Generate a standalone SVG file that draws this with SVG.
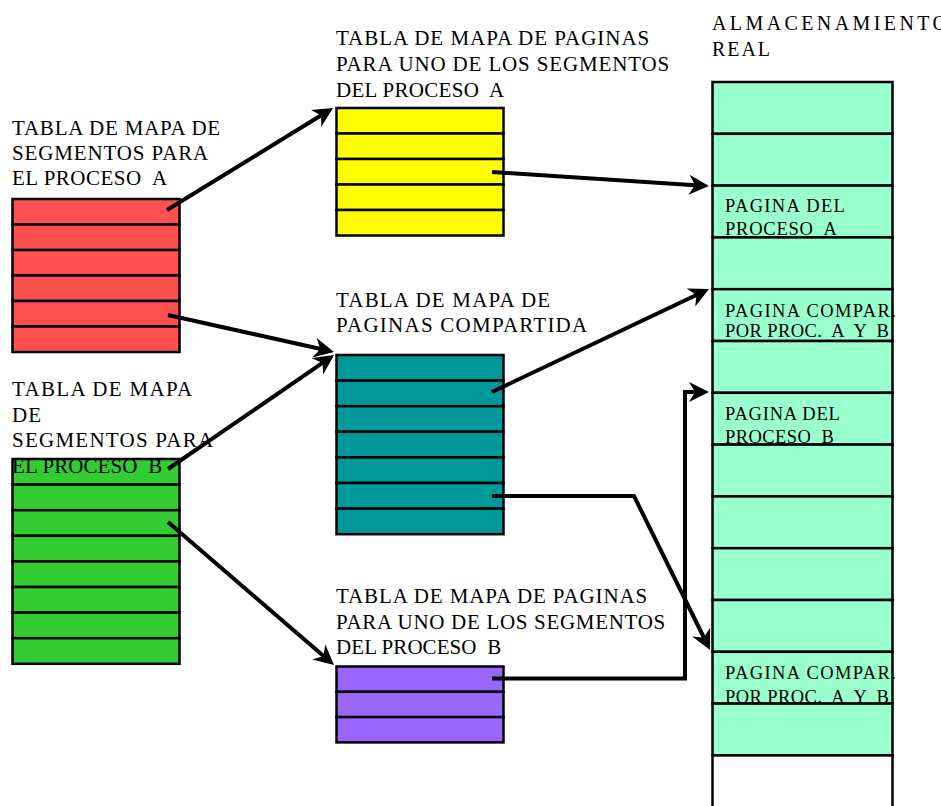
<svg xmlns="http://www.w3.org/2000/svg" width="941" height="806" viewBox="0 0 941 806" font-family="'Liberation Serif', serif">
<style>
text{font-family:'Liberation Serif',serif;fill:#000;white-space:pre}
.lbl{font-size:21px;letter-spacing:0.8px}
.ttl{font-size:20px;letter-spacing:3px}
.mem{font-size:18.5px;letter-spacing:1.1px}
.row{stroke:#000;stroke-width:2.5}
.red{fill:#FF5050}.yel{fill:#FFFF00}.tea{fill:#009999}.grn{fill:#33CC33}.pur{fill:#9966FF}.mm{fill:#99FFCC}
.con{fill:none;stroke:#000;stroke-width:4;stroke-linejoin:miter}
</style>
<defs>
<marker id="ah" markerUnits="userSpaceOnUse" markerWidth="22" markerHeight="22" refX="10" refY="10" orient="auto" viewBox="0 0 22 22">
<path d="M0,0 L20,10 L0,20 L6,10 z" fill="#000"/>
</marker>
</defs>

<g id="seg-a">
<rect class="row red" x="12.5" y="199" width="167" height="25.5"/>
<rect class="row red" x="12.5" y="224.5" width="167" height="25.5"/>
<rect class="row red" x="12.5" y="250" width="167" height="25.5"/>
<rect class="row red" x="12.5" y="275.5" width="167" height="25.5"/>
<rect class="row red" x="12.5" y="301" width="167" height="25.5"/>
<rect class="row red" x="12.5" y="326.5" width="167" height="25.5"/>
<text class="lbl" x="12" y="135" textLength="209" lengthAdjust="spacing">TABLA DE MAPA DE</text>
<text class="lbl" x="12" y="160" textLength="197" lengthAdjust="spacing">SEGMENTOS PARA</text>
<text class="lbl" x="12" y="185" textLength="156" lengthAdjust="spacing" xml:space="preserve">EL PROCESO  A</text>
</g>

<g id="seg-b">
<rect class="row grn" x="12.5" y="459" width="167" height="25.6"/>
<rect class="row grn" x="12.5" y="484.6" width="167" height="25.6"/>
<rect class="row grn" x="12.5" y="510.2" width="167" height="25.6"/>
<rect class="row grn" x="12.5" y="535.8" width="167" height="25.6"/>
<rect class="row grn" x="12.5" y="561.4" width="167" height="25.6"/>
<rect class="row grn" x="12.5" y="587" width="167" height="25.6"/>
<rect class="row grn" x="12.5" y="612.6" width="167" height="25.6"/>
<rect class="row grn" x="12.5" y="638.2" width="167" height="25.6"/>
<text class="lbl" x="12" y="396" textLength="181" lengthAdjust="spacing">TABLA DE MAPA</text>
<text class="lbl" x="12" y="421.5" textLength="30" lengthAdjust="spacing">DE</text>
<text class="lbl" x="12" y="447" textLength="202" lengthAdjust="spacing">SEGMENTOS PARA</text>
<text class="lbl" x="12" y="472.5" textLength="151" lengthAdjust="spacing" xml:space="preserve">EL PROCESO  B</text>
</g>

<g id="pag-a">
<rect class="row yel" x="336.5" y="108" width="167" height="25.5"/>
<rect class="row yel" x="336.5" y="133.5" width="167" height="25.5"/>
<rect class="row yel" x="336.5" y="159" width="167" height="25.5"/>
<rect class="row yel" x="336.5" y="184.5" width="167" height="25.5"/>
<rect class="row yel" x="336.5" y="210" width="167" height="25.5"/>
<text class="lbl" x="336" y="45" textLength="314" lengthAdjust="spacing">TABLA DE MAPA DE PAGINAS</text>
<text class="lbl" x="336" y="71" textLength="334" lengthAdjust="spacing">PARA UNO DE LOS SEGMENTOS</text>
<text class="lbl" x="336" y="96.5" textLength="169" lengthAdjust="spacing" xml:space="preserve">DEL PROCESO  A</text>
</g>

<g id="pag-shared">
<rect class="row tea" x="336.5" y="355" width="167" height="25.6"/>
<rect class="row tea" x="336.5" y="380.6" width="167" height="25.6"/>
<rect class="row tea" x="336.5" y="406.2" width="167" height="25.6"/>
<rect class="row tea" x="336.5" y="431.8" width="167" height="25.6"/>
<rect class="row tea" x="336.5" y="457.4" width="167" height="25.6"/>
<rect class="row tea" x="336.5" y="483" width="167" height="25.6"/>
<rect class="row tea" x="336.5" y="508.6" width="167" height="25.6"/>
<text class="lbl" x="336" y="307" textLength="215" lengthAdjust="spacing">TABLA DE MAPA DE</text>
<text class="lbl" x="336" y="332" textLength="252" lengthAdjust="spacing">PAGINAS COMPARTIDA</text>
</g>

<g id="pag-b">
<rect class="row pur" x="336.5" y="666.5" width="167" height="25.3"/>
<rect class="row pur" x="336.5" y="691.8" width="167" height="25.3"/>
<rect class="row pur" x="336.5" y="717.1" width="167" height="25.3"/>
<text class="lbl" x="336" y="603" textLength="312" lengthAdjust="spacing">TABLA DE MAPA DE PAGINAS</text>
<text class="lbl" x="336" y="629" textLength="330" lengthAdjust="spacing">PARA UNO DE LOS SEGMENTOS</text>
<text class="lbl" x="336" y="654" textLength="166" lengthAdjust="spacing" xml:space="preserve">DEL PROCESO  B</text>
</g>

<g id="memory">
<rect class="row mm" x="712.5" y="82" width="180" height="51.8"/>
<rect class="row mm" x="712.5" y="133.8" width="180" height="51.8"/>
<rect class="row mm" x="712.5" y="185.6" width="180" height="51.8"/>
<rect class="row mm" x="712.5" y="237.4" width="180" height="51.8"/>
<rect class="row mm" x="712.5" y="289.2" width="180" height="51.8"/>
<rect class="row mm" x="712.5" y="341" width="180" height="51.8"/>
<rect class="row mm" x="712.5" y="392.8" width="180" height="51.8"/>
<rect class="row mm" x="712.5" y="444.6" width="180" height="51.8"/>
<rect class="row mm" x="712.5" y="496.4" width="180" height="51.8"/>
<rect class="row mm" x="712.5" y="548.2" width="180" height="51.8"/>
<rect class="row mm" x="712.5" y="600" width="180" height="51.8"/>
<rect class="row mm" x="712.5" y="651.8" width="180" height="51.8"/>
<rect class="row mm" x="712.5" y="703.6" width="180" height="51.8"/>
<rect class="row" fill="#fff" x="712.5" y="755.4" width="180" height="80"/>
<text class="ttl" x="712" y="30" textLength="238" lengthAdjust="spacing">ALMACENAMIENTO</text>
<text class="ttl" x="712" y="55.5" textLength="61" lengthAdjust="spacing">REAL</text>
<text class="mem" x="725" y="212" textLength="121" lengthAdjust="spacing">PAGINA DEL</text>
<text class="mem" x="725" y="235" textLength="113" lengthAdjust="spacing" xml:space="preserve">PROCESO  A</text>
<text class="mem" x="725" y="317" textLength="172" lengthAdjust="spacing">PAGINA COMPAR.</text>
<text class="mem" x="725" y="337" textLength="165" lengthAdjust="spacing" xml:space="preserve">POR PROC.  A  Y  B</text>
<text class="mem" x="725" y="420" textLength="116" lengthAdjust="spacing">PAGINA DEL</text>
<text class="mem" x="725" y="442.5" textLength="110" lengthAdjust="spacing" xml:space="preserve">PROCESO  B</text>
<text class="mem" x="725" y="678.5" textLength="172" lengthAdjust="spacing">PAGINA COMPAR.</text>
<text class="mem" x="725" y="703" textLength="165" lengthAdjust="spacing" xml:space="preserve">POR PROC.  A  Y  B</text>
</g>

<g id="connectors">
<path class="con" d="M167,210 L324.5,113.2" marker-end="url(#ah)"/>
<path class="con" d="M168,315 L324.2,349.8" marker-end="url(#ah)"/>
<path class="con" d="M168,469 L325.8,360.7" marker-end="url(#ah)"/>
<path class="con" d="M168,522 L326.4,658.5" marker-end="url(#ah)"/>
<path class="con" d="M492,172 L699,185.4" marker-end="url(#ah)"/>
<path class="con" d="M492,392 L700,293.3" marker-end="url(#ah)"/>
<path class="con" d="M492,496 L634,496 L705.6,641" marker-end="url(#ah)"/>
<path class="con" d="M492,678.5 L685,678.5 L685,392 L699,392" marker-end="url(#ah)"/>
</g>
</svg>
